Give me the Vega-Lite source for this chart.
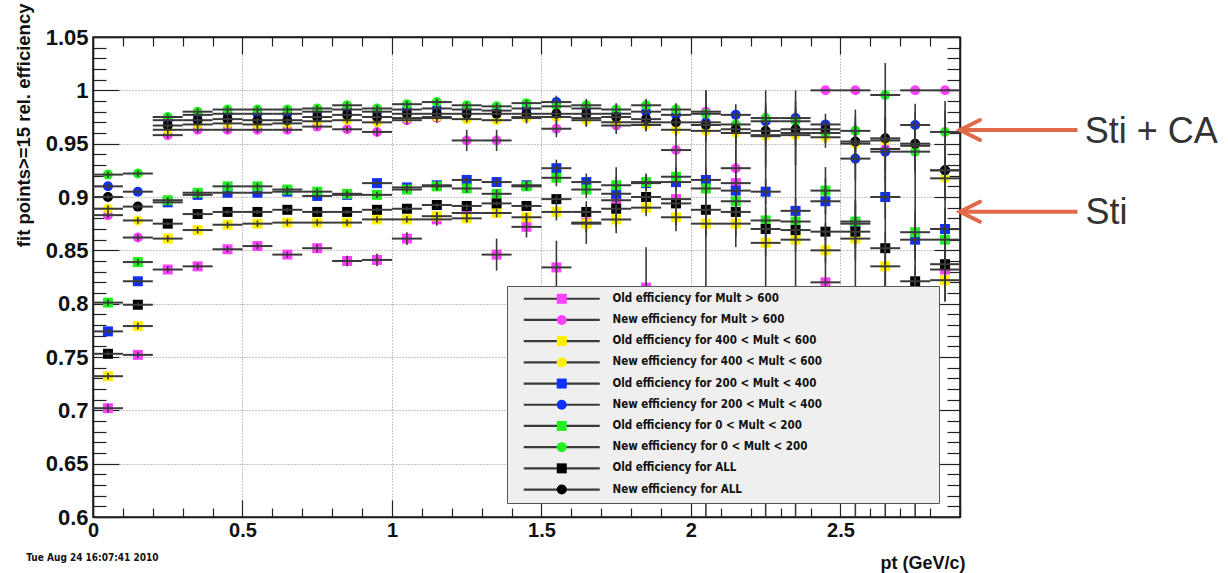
{
"$schema": "https://vega.github.io/schema/vega-lite/v6.json",
"width": 867, "height": 480,
"autosize": "none",
"padding": {"left": 93, "top": 37, "right": 268, "bottom": 56},
"background": "white",
"config": {"view": {"stroke": "#1a1a1a", "strokeWidth": 1.5}},
"datasets": {
"eff": [
{"s":"Old efficiency for Mult > 600","x":0.05,"y":0.702,"e":0.004},{"s":"Old efficiency for Mult > 600","x":0.15,"y":0.752,"e":0.003},{"s":"Old efficiency for Mult > 600","x":0.25,"y":0.832,"e":0.003},{"s":"Old efficiency for Mult > 600","x":0.35,"y":0.835,"e":0.003},{"s":"Old efficiency for Mult > 600","x":0.45,"y":0.851,"e":0.003},{"s":"Old efficiency for Mult > 600","x":0.55,"y":0.854,"e":0.003},{"s":"Old efficiency for Mult > 600","x":0.65,"y":0.846,"e":0.003},{"s":"Old efficiency for Mult > 600","x":0.75,"y":0.852,"e":0.004},{"s":"Old efficiency for Mult > 600","x":0.85,"y":0.840,"e":0.005},{"s":"Old efficiency for Mult > 600","x":0.95,"y":0.841,"e":0.006},{"s":"Old efficiency for Mult > 600","x":1.05,"y":0.861,"e":0.006},{"s":"Old efficiency for Mult > 600","x":1.15,"y":0.879,"e":0.006},{"s":"Old efficiency for Mult > 600","x":1.25,"y":0.885,"e":0.008},{"s":"Old efficiency for Mult > 600","x":1.35,"y":0.846,"e":0.015},{"s":"Old efficiency for Mult > 600","x":1.45,"y":0.872,"e":0.01},{"s":"Old efficiency for Mult > 600","x":1.55,"y":0.834,"e":0.025},{"s":"Old efficiency for Mult > 600","x":1.65,"y":0.876,"e":0.02},{"s":"Old efficiency for Mult > 600","x":1.75,"y":0.897,"e":0.031},{"s":"Old efficiency for Mult > 600","x":1.85,"y":0.815,"e":0.038},{"s":"Old efficiency for Mult > 600","x":1.95,"y":0.898,"e":0.03},{"s":"Old efficiency for Mult > 600","x":2.05,"y":0.790,"e":0.21},{"s":"Old efficiency for Mult > 600","x":2.15,"y":0.913,"e":0.06},{"s":"Old efficiency for Mult > 600","x":2.25,"y":0.800,"e":0.2},{"s":"Old efficiency for Mult > 600","x":2.35,"y":0.790,"e":0.21},{"s":"Old efficiency for Mult > 600","x":2.45,"y":0.820,"e":0.108},{"s":"Old efficiency for Mult > 600","x":2.55,"y":0.780,"e":0.195},{"s":"Old efficiency for Mult > 600","x":2.65,"y":0.760,"e":0.24},{"s":"Old efficiency for Mult > 600","x":2.75,"y":0.770,"e":0.21},{"s":"Old efficiency for Mult > 600","x":2.85,"y":0.832,"e":0.03},
{"s":"New efficiency for Mult > 600","x":0.05,"y":0.883,"e":0.003},{"s":"New efficiency for Mult > 600","x":0.15,"y":0.862,"e":0.003},{"s":"New efficiency for Mult > 600","x":0.25,"y":0.958,"e":0.003},{"s":"New efficiency for Mult > 600","x":0.35,"y":0.963,"e":0.003},{"s":"New efficiency for Mult > 600","x":0.45,"y":0.963,"e":0.003},{"s":"New efficiency for Mult > 600","x":0.55,"y":0.963,"e":0.003},{"s":"New efficiency for Mult > 600","x":0.65,"y":0.963,"e":0.003},{"s":"New efficiency for Mult > 600","x":0.75,"y":0.966,"e":0.003},{"s":"New efficiency for Mult > 600","x":0.85,"y":0.9635,"e":0.003},{"s":"New efficiency for Mult > 600","x":0.95,"y":0.961,"e":0.004},{"s":"New efficiency for Mult > 600","x":1.05,"y":0.972,"e":0.004},{"s":"New efficiency for Mult > 600","x":1.15,"y":0.974,"e":0.004},{"s":"New efficiency for Mult > 600","x":1.25,"y":0.953,"e":0.01},{"s":"New efficiency for Mult > 600","x":1.35,"y":0.953,"e":0.01},{"s":"New efficiency for Mult > 600","x":1.45,"y":0.975,"e":0.006},{"s":"New efficiency for Mult > 600","x":1.55,"y":0.964,"e":0.008},{"s":"New efficiency for Mult > 600","x":1.65,"y":0.974,"e":0.008},{"s":"New efficiency for Mult > 600","x":1.75,"y":0.967,"e":0.008},{"s":"New efficiency for Mult > 600","x":1.85,"y":0.970,"e":0.008},{"s":"New efficiency for Mult > 600","x":1.95,"y":0.944,"e":0.02},{"s":"New efficiency for Mult > 600","x":2.05,"y":0.980,"e":0.02},{"s":"New efficiency for Mult > 600","x":2.15,"y":0.927,"e":0.05},{"s":"New efficiency for Mult > 600","x":2.25,"y":0.958,"e":0.03},{"s":"New efficiency for Mult > 600","x":2.35,"y":0.960,"e":0.03},{"s":"New efficiency for Mult > 600","x":2.45,"y":1.0,"e":0},{"s":"New efficiency for Mult > 600","x":2.55,"y":1.0,"e":0},{"s":"New efficiency for Mult > 600","x":2.65,"y":0.945,"e":0.03},{"s":"New efficiency for Mult > 600","x":2.75,"y":1.0,"e":0},{"s":"New efficiency for Mult > 600","x":2.85,"y":1.0,"e":0},
{"s":"Old efficiency for 400 < Mult < 600","x":0.05,"y":0.732,"e":0.003},{"s":"Old efficiency for 400 < Mult < 600","x":0.15,"y":0.779,"e":0.003},{"s":"Old efficiency for 400 < Mult < 600","x":0.25,"y":0.861,"e":0.003},{"s":"Old efficiency for 400 < Mult < 600","x":0.35,"y":0.869,"e":0.003},{"s":"Old efficiency for 400 < Mult < 600","x":0.45,"y":0.874,"e":0.003},{"s":"Old efficiency for 400 < Mult < 600","x":0.55,"y":0.875,"e":0.003},{"s":"Old efficiency for 400 < Mult < 600","x":0.65,"y":0.876,"e":0.003},{"s":"Old efficiency for 400 < Mult < 600","x":0.75,"y":0.876,"e":0.003},{"s":"Old efficiency for 400 < Mult < 600","x":0.85,"y":0.876,"e":0.003},{"s":"Old efficiency for 400 < Mult < 600","x":0.95,"y":0.879,"e":0.003},{"s":"Old efficiency for 400 < Mult < 600","x":1.05,"y":0.879,"e":0.003},{"s":"Old efficiency for 400 < Mult < 600","x":1.15,"y":0.882,"e":0.004},{"s":"Old efficiency for 400 < Mult < 600","x":1.25,"y":0.880,"e":0.004},{"s":"Old efficiency for 400 < Mult < 600","x":1.35,"y":0.885,"e":0.004},{"s":"Old efficiency for 400 < Mult < 600","x":1.45,"y":0.881,"e":0.004},{"s":"Old efficiency for 400 < Mult < 600","x":1.55,"y":0.886,"e":0.008},{"s":"Old efficiency for 400 < Mult < 600","x":1.65,"y":0.875,"e":0.008},{"s":"Old efficiency for 400 < Mult < 600","x":1.75,"y":0.879,"e":0.008},{"s":"Old efficiency for 400 < Mult < 600","x":1.85,"y":0.890,"e":0.008},{"s":"Old efficiency for 400 < Mult < 600","x":1.95,"y":0.881,"e":0.008},{"s":"Old efficiency for 400 < Mult < 600","x":2.05,"y":0.875,"e":0.012},{"s":"Old efficiency for 400 < Mult < 600","x":2.15,"y":0.875,"e":0.012},{"s":"Old efficiency for 400 < Mult < 600","x":2.25,"y":0.857,"e":0.012},{"s":"Old efficiency for 400 < Mult < 600","x":2.35,"y":0.860,"e":0.012},{"s":"Old efficiency for 400 < Mult < 600","x":2.45,"y":0.850,"e":0.012},{"s":"Old efficiency for 400 < Mult < 600","x":2.55,"y":0.861,"e":0.02},{"s":"Old efficiency for 400 < Mult < 600","x":2.65,"y":0.835,"e":0.02},{"s":"Old efficiency for 400 < Mult < 600","x":2.75,"y":0.800,"e":0.02},{"s":"Old efficiency for 400 < Mult < 600","x":2.85,"y":0.822,"e":0.02},
{"s":"New efficiency for 400 < Mult < 600","x":0.05,"y":0.889,"e":0.003},{"s":"New efficiency for 400 < Mult < 600","x":0.15,"y":0.878,"e":0.003},{"s":"New efficiency for 400 < Mult < 600","x":0.25,"y":0.963,"e":0.003},{"s":"New efficiency for 400 < Mult < 600","x":0.35,"y":0.968,"e":0.003},{"s":"New efficiency for 400 < Mult < 600","x":0.45,"y":0.969,"e":0.003},{"s":"New efficiency for 400 < Mult < 600","x":0.55,"y":0.968,"e":0.003},{"s":"New efficiency for 400 < Mult < 600","x":0.65,"y":0.969,"e":0.003},{"s":"New efficiency for 400 < Mult < 600","x":0.75,"y":0.971,"e":0.003},{"s":"New efficiency for 400 < Mult < 600","x":0.85,"y":0.972,"e":0.003},{"s":"New efficiency for 400 < Mult < 600","x":0.95,"y":0.970,"e":0.003},{"s":"New efficiency for 400 < Mult < 600","x":1.05,"y":0.974,"e":0.003},{"s":"New efficiency for 400 < Mult < 600","x":1.15,"y":0.975,"e":0.003},{"s":"New efficiency for 400 < Mult < 600","x":1.25,"y":0.973,"e":0.003},{"s":"New efficiency for 400 < Mult < 600","x":1.35,"y":0.972,"e":0.003},{"s":"New efficiency for 400 < Mult < 600","x":1.45,"y":0.974,"e":0.003},{"s":"New efficiency for 400 < Mult < 600","x":1.55,"y":0.975,"e":0.006},{"s":"New efficiency for 400 < Mult < 600","x":1.65,"y":0.972,"e":0.006},{"s":"New efficiency for 400 < Mult < 600","x":1.75,"y":0.970,"e":0.006},{"s":"New efficiency for 400 < Mult < 600","x":1.85,"y":0.9675,"e":0.006},{"s":"New efficiency for 400 < Mult < 600","x":1.95,"y":0.963,"e":0.006},{"s":"New efficiency for 400 < Mult < 600","x":2.05,"y":0.962,"e":0.01},{"s":"New efficiency for 400 < Mult < 600","x":2.15,"y":0.960,"e":0.01},{"s":"New efficiency for 400 < Mult < 600","x":2.25,"y":0.957,"e":0.01},{"s":"New efficiency for 400 < Mult < 600","x":2.35,"y":0.958,"e":0.01},{"s":"New efficiency for 400 < Mult < 600","x":2.45,"y":0.956,"e":0.01},{"s":"New efficiency for 400 < Mult < 600","x":2.55,"y":0.950,"e":0.02},{"s":"New efficiency for 400 < Mult < 600","x":2.65,"y":0.953,"e":0.02},{"s":"New efficiency for 400 < Mult < 600","x":2.75,"y":0.948,"e":0.02},{"s":"New efficiency for 400 < Mult < 600","x":2.85,"y":0.9175,"e":0.02},
{"s":"Old efficiency for 200 < Mult < 400","x":0.05,"y":0.774,"e":0.003},{"s":"Old efficiency for 200 < Mult < 400","x":0.15,"y":0.821,"e":0.003},{"s":"Old efficiency for 200 < Mult < 400","x":0.25,"y":0.895,"e":0.003},{"s":"Old efficiency for 200 < Mult < 400","x":0.35,"y":0.902,"e":0.003},{"s":"Old efficiency for 200 < Mult < 400","x":0.45,"y":0.904,"e":0.003},{"s":"Old efficiency for 200 < Mult < 400","x":0.55,"y":0.904,"e":0.003},{"s":"Old efficiency for 200 < Mult < 400","x":0.65,"y":0.905,"e":0.003},{"s":"Old efficiency for 200 < Mult < 400","x":0.75,"y":0.901,"e":0.003},{"s":"Old efficiency for 200 < Mult < 400","x":0.85,"y":0.902,"e":0.003},{"s":"Old efficiency for 200 < Mult < 400","x":0.95,"y":0.913,"e":0.003},{"s":"Old efficiency for 200 < Mult < 400","x":1.05,"y":0.909,"e":0.003},{"s":"Old efficiency for 200 < Mult < 400","x":1.15,"y":0.911,"e":0.004},{"s":"Old efficiency for 200 < Mult < 400","x":1.25,"y":0.916,"e":0.004},{"s":"Old efficiency for 200 < Mult < 400","x":1.35,"y":0.914,"e":0.004},{"s":"Old efficiency for 200 < Mult < 400","x":1.45,"y":0.911,"e":0.004},{"s":"Old efficiency for 200 < Mult < 400","x":1.55,"y":0.927,"e":0.008},{"s":"Old efficiency for 200 < Mult < 400","x":1.65,"y":0.914,"e":0.008},{"s":"Old efficiency for 200 < Mult < 400","x":1.75,"y":0.903,"e":0.008},{"s":"Old efficiency for 200 < Mult < 400","x":1.85,"y":0.913,"e":0.008},{"s":"Old efficiency for 200 < Mult < 400","x":1.95,"y":0.914,"e":0.008},{"s":"Old efficiency for 200 < Mult < 400","x":2.05,"y":0.916,"e":0.012},{"s":"Old efficiency for 200 < Mult < 400","x":2.15,"y":0.906,"e":0.012},{"s":"Old efficiency for 200 < Mult < 400","x":2.25,"y":0.905,"e":0.012},{"s":"Old efficiency for 200 < Mult < 400","x":2.35,"y":0.887,"e":0.012},{"s":"Old efficiency for 200 < Mult < 400","x":2.45,"y":0.896,"e":0.012},{"s":"Old efficiency for 200 < Mult < 400","x":2.55,"y":0.875,"e":0.02},{"s":"Old efficiency for 200 < Mult < 400","x":2.65,"y":0.900,"e":0.02},{"s":"Old efficiency for 200 < Mult < 400","x":2.75,"y":0.860,"e":0.02},{"s":"Old efficiency for 200 < Mult < 400","x":2.85,"y":0.870,"e":0.02},
{"s":"New efficiency for 200 < Mult < 400","x":0.05,"y":0.910,"e":0.003},{"s":"New efficiency for 200 < Mult < 400","x":0.15,"y":0.905,"e":0.003},{"s":"New efficiency for 200 < Mult < 400","x":0.25,"y":0.972,"e":0.003},{"s":"New efficiency for 200 < Mult < 400","x":0.35,"y":0.977,"e":0.003},{"s":"New efficiency for 200 < Mult < 400","x":0.45,"y":0.978,"e":0.003},{"s":"New efficiency for 200 < Mult < 400","x":0.55,"y":0.978,"e":0.003},{"s":"New efficiency for 200 < Mult < 400","x":0.65,"y":0.978,"e":0.003},{"s":"New efficiency for 200 < Mult < 400","x":0.75,"y":0.980,"e":0.003},{"s":"New efficiency for 200 < Mult < 400","x":0.85,"y":0.982,"e":0.003},{"s":"New efficiency for 200 < Mult < 400","x":0.95,"y":0.980,"e":0.003},{"s":"New efficiency for 200 < Mult < 400","x":1.05,"y":0.982,"e":0.003},{"s":"New efficiency for 200 < Mult < 400","x":1.15,"y":0.983,"e":0.003},{"s":"New efficiency for 200 < Mult < 400","x":1.25,"y":0.982,"e":0.003},{"s":"New efficiency for 200 < Mult < 400","x":1.35,"y":0.981,"e":0.003},{"s":"New efficiency for 200 < Mult < 400","x":1.45,"y":0.983,"e":0.003},{"s":"New efficiency for 200 < Mult < 400","x":1.55,"y":0.989,"e":0.006},{"s":"New efficiency for 200 < Mult < 400","x":1.65,"y":0.983,"e":0.006},{"s":"New efficiency for 200 < Mult < 400","x":1.75,"y":0.978,"e":0.006},{"s":"New efficiency for 200 < Mult < 400","x":1.85,"y":0.980,"e":0.006},{"s":"New efficiency for 200 < Mult < 400","x":1.95,"y":0.977,"e":0.006},{"s":"New efficiency for 200 < Mult < 400","x":2.05,"y":0.970,"e":0.01},{"s":"New efficiency for 200 < Mult < 400","x":2.15,"y":0.977,"e":0.01},{"s":"New efficiency for 200 < Mult < 400","x":2.25,"y":0.971,"e":0.01},{"s":"New efficiency for 200 < Mult < 400","x":2.35,"y":0.974,"e":0.01},{"s":"New efficiency for 200 < Mult < 400","x":2.45,"y":0.968,"e":0.01},{"s":"New efficiency for 200 < Mult < 400","x":2.55,"y":0.936,"e":0.02},{"s":"New efficiency for 200 < Mult < 400","x":2.65,"y":0.9425,"e":0.02},{"s":"New efficiency for 200 < Mult < 400","x":2.75,"y":0.9675,"e":0.02},{"s":"New efficiency for 200 < Mult < 400","x":2.85,"y":0.925,"e":0.02},
{"s":"Old efficiency for 0 < Mult < 200","x":0.05,"y":0.801,"e":0.003},{"s":"Old efficiency for 0 < Mult < 200","x":0.15,"y":0.839,"e":0.003},{"s":"Old efficiency for 0 < Mult < 200","x":0.25,"y":0.897,"e":0.003},{"s":"Old efficiency for 0 < Mult < 200","x":0.35,"y":0.904,"e":0.003},{"s":"Old efficiency for 0 < Mult < 200","x":0.45,"y":0.910,"e":0.003},{"s":"Old efficiency for 0 < Mult < 200","x":0.55,"y":0.910,"e":0.003},{"s":"Old efficiency for 0 < Mult < 200","x":0.65,"y":0.907,"e":0.003},{"s":"Old efficiency for 0 < Mult < 200","x":0.75,"y":0.905,"e":0.003},{"s":"Old efficiency for 0 < Mult < 200","x":0.85,"y":0.903,"e":0.003},{"s":"Old efficiency for 0 < Mult < 200","x":0.95,"y":0.902,"e":0.003},{"s":"Old efficiency for 0 < Mult < 200","x":1.05,"y":0.907,"e":0.003},{"s":"Old efficiency for 0 < Mult < 200","x":1.15,"y":0.910,"e":0.004},{"s":"Old efficiency for 0 < Mult < 200","x":1.25,"y":0.908,"e":0.004},{"s":"Old efficiency for 0 < Mult < 200","x":1.35,"y":0.903,"e":0.004},{"s":"Old efficiency for 0 < Mult < 200","x":1.45,"y":0.910,"e":0.004},{"s":"Old efficiency for 0 < Mult < 200","x":1.55,"y":0.918,"e":0.008},{"s":"Old efficiency for 0 < Mult < 200","x":1.65,"y":0.907,"e":0.008},{"s":"Old efficiency for 0 < Mult < 200","x":1.75,"y":0.911,"e":0.008},{"s":"Old efficiency for 0 < Mult < 200","x":1.85,"y":0.914,"e":0.008},{"s":"Old efficiency for 0 < Mult < 200","x":1.95,"y":0.919,"e":0.008},{"s":"Old efficiency for 0 < Mult < 200","x":2.05,"y":0.908,"e":0.012},{"s":"Old efficiency for 0 < Mult < 200","x":2.15,"y":0.896,"e":0.012},{"s":"Old efficiency for 0 < Mult < 200","x":2.25,"y":0.878,"e":0.012},{"s":"Old efficiency for 0 < Mult < 200","x":2.35,"y":0.877,"e":0.012},{"s":"Old efficiency for 0 < Mult < 200","x":2.45,"y":0.906,"e":0.012},{"s":"Old efficiency for 0 < Mult < 200","x":2.55,"y":0.877,"e":0.02},{"s":"Old efficiency for 0 < Mult < 200","x":2.65,"y":0.810,"e":0.02},{"s":"Old efficiency for 0 < Mult < 200","x":2.75,"y":0.867,"e":0.02},{"s":"Old efficiency for 0 < Mult < 200","x":2.85,"y":0.860,"e":0.02},
{"s":"New efficiency for 0 < Mult < 200","x":0.05,"y":0.921,"e":0.003},{"s":"New efficiency for 0 < Mult < 200","x":0.15,"y":0.922,"e":0.003},{"s":"New efficiency for 0 < Mult < 200","x":0.25,"y":0.975,"e":0.003},{"s":"New efficiency for 0 < Mult < 200","x":0.35,"y":0.980,"e":0.003},{"s":"New efficiency for 0 < Mult < 200","x":0.45,"y":0.982,"e":0.003},{"s":"New efficiency for 0 < Mult < 200","x":0.55,"y":0.982,"e":0.003},{"s":"New efficiency for 0 < Mult < 200","x":0.65,"y":0.982,"e":0.003},{"s":"New efficiency for 0 < Mult < 200","x":0.75,"y":0.983,"e":0.003},{"s":"New efficiency for 0 < Mult < 200","x":0.85,"y":0.986,"e":0.003},{"s":"New efficiency for 0 < Mult < 200","x":0.95,"y":0.983,"e":0.003},{"s":"New efficiency for 0 < Mult < 200","x":1.05,"y":0.987,"e":0.003},{"s":"New efficiency for 0 < Mult < 200","x":1.15,"y":0.989,"e":0.003},{"s":"New efficiency for 0 < Mult < 200","x":1.25,"y":0.986,"e":0.003},{"s":"New efficiency for 0 < Mult < 200","x":1.35,"y":0.985,"e":0.003},{"s":"New efficiency for 0 < Mult < 200","x":1.45,"y":0.988,"e":0.003},{"s":"New efficiency for 0 < Mult < 200","x":1.55,"y":0.985,"e":0.006},{"s":"New efficiency for 0 < Mult < 200","x":1.65,"y":0.986,"e":0.006},{"s":"New efficiency for 0 < Mult < 200","x":1.75,"y":0.982,"e":0.006},{"s":"New efficiency for 0 < Mult < 200","x":1.85,"y":0.986,"e":0.006},{"s":"New efficiency for 0 < Mult < 200","x":1.95,"y":0.982,"e":0.006},{"s":"New efficiency for 0 < Mult < 200","x":2.05,"y":0.978,"e":0.01},{"s":"New efficiency for 0 < Mult < 200","x":2.15,"y":0.968,"e":0.01},{"s":"New efficiency for 0 < Mult < 200","x":2.25,"y":0.974,"e":0.01},{"s":"New efficiency for 0 < Mult < 200","x":2.35,"y":0.971,"e":0.01},{"s":"New efficiency for 0 < Mult < 200","x":2.45,"y":0.960,"e":0.01},{"s":"New efficiency for 0 < Mult < 200","x":2.55,"y":0.962,"e":0.02},{"s":"New efficiency for 0 < Mult < 200","x":2.65,"y":0.9956,"e":0.03},{"s":"New efficiency for 0 < Mult < 200","x":2.75,"y":0.9425,"e":0.02},{"s":"New efficiency for 0 < Mult < 200","x":2.85,"y":0.961,"e":0.02},
{"s":"Old efficiency for ALL","x":0.05,"y":0.753,"e":0.002},{"s":"Old efficiency for ALL","x":0.15,"y":0.799,"e":0.002},{"s":"Old efficiency for ALL","x":0.25,"y":0.875,"e":0.002},{"s":"Old efficiency for ALL","x":0.35,"y":0.884,"e":0.002},{"s":"Old efficiency for ALL","x":0.45,"y":0.886,"e":0.002},{"s":"Old efficiency for ALL","x":0.55,"y":0.886,"e":0.002},{"s":"Old efficiency for ALL","x":0.65,"y":0.888,"e":0.002},{"s":"Old efficiency for ALL","x":0.75,"y":0.886,"e":0.002},{"s":"Old efficiency for ALL","x":0.85,"y":0.886,"e":0.002},{"s":"Old efficiency for ALL","x":0.95,"y":0.888,"e":0.002},{"s":"Old efficiency for ALL","x":1.05,"y":0.889,"e":0.002},{"s":"Old efficiency for ALL","x":1.15,"y":0.8925,"e":0.002},{"s":"Old efficiency for ALL","x":1.25,"y":0.8916,"e":0.002},{"s":"Old efficiency for ALL","x":1.35,"y":0.894,"e":0.002},{"s":"Old efficiency for ALL","x":1.45,"y":0.8916,"e":0.002},{"s":"Old efficiency for ALL","x":1.55,"y":0.898,"e":0.004},{"s":"Old efficiency for ALL","x":1.65,"y":0.886,"e":0.004},{"s":"Old efficiency for ALL","x":1.75,"y":0.889,"e":0.004},{"s":"Old efficiency for ALL","x":1.85,"y":0.900,"e":0.004},{"s":"Old efficiency for ALL","x":1.95,"y":0.894,"e":0.004},{"s":"Old efficiency for ALL","x":2.05,"y":0.888,"e":0.008},{"s":"Old efficiency for ALL","x":2.15,"y":0.886,"e":0.008},{"s":"Old efficiency for ALL","x":2.25,"y":0.870,"e":0.008},{"s":"Old efficiency for ALL","x":2.35,"y":0.869,"e":0.008},{"s":"Old efficiency for ALL","x":2.45,"y":0.8675,"e":0.008},{"s":"Old efficiency for ALL","x":2.55,"y":0.8675,"e":0.015},{"s":"Old efficiency for ALL","x":2.65,"y":0.852,"e":0.015},{"s":"Old efficiency for ALL","x":2.75,"y":0.821,"e":0.015},{"s":"Old efficiency for ALL","x":2.85,"y":0.837,"e":0.015},
{"s":"New efficiency for ALL","x":0.05,"y":0.900,"e":0.002},{"s":"New efficiency for ALL","x":0.15,"y":0.891,"e":0.002},{"s":"New efficiency for ALL","x":0.25,"y":0.967,"e":0.002},{"s":"New efficiency for ALL","x":0.35,"y":0.972,"e":0.002},{"s":"New efficiency for ALL","x":0.45,"y":0.973,"e":0.002},{"s":"New efficiency for ALL","x":0.55,"y":0.972,"e":0.002},{"s":"New efficiency for ALL","x":0.65,"y":0.972,"e":0.002},{"s":"New efficiency for ALL","x":0.75,"y":0.975,"e":0.002},{"s":"New efficiency for ALL","x":0.85,"y":0.977,"e":0.002},{"s":"New efficiency for ALL","x":0.95,"y":0.975,"e":0.002},{"s":"New efficiency for ALL","x":1.05,"y":0.978,"e":0.002},{"s":"New efficiency for ALL","x":1.15,"y":0.978,"e":0.002},{"s":"New efficiency for ALL","x":1.25,"y":0.978,"e":0.002},{"s":"New efficiency for ALL","x":1.35,"y":0.978,"e":0.002},{"s":"New efficiency for ALL","x":1.45,"y":0.978,"e":0.002},{"s":"New efficiency for ALL","x":1.55,"y":0.978,"e":0.004},{"s":"New efficiency for ALL","x":1.65,"y":0.978,"e":0.004},{"s":"New efficiency for ALL","x":1.75,"y":0.975,"e":0.004},{"s":"New efficiency for ALL","x":1.85,"y":0.973,"e":0.004},{"s":"New efficiency for ALL","x":1.95,"y":0.970,"e":0.004},{"s":"New efficiency for ALL","x":2.05,"y":0.9675,"e":0.008},{"s":"New efficiency for ALL","x":2.15,"y":0.9635,"e":0.008},{"s":"New efficiency for ALL","x":2.25,"y":0.962,"e":0.008},{"s":"New efficiency for ALL","x":2.35,"y":0.9635,"e":0.008},{"s":"New efficiency for ALL","x":2.45,"y":0.9635,"e":0.008},{"s":"New efficiency for ALL","x":2.55,"y":0.952,"e":0.015},{"s":"New efficiency for ALL","x":2.65,"y":0.955,"e":0.015},{"s":"New efficiency for ALL","x":2.75,"y":0.950,"e":0.015},{"s":"New efficiency for ALL","x":2.85,"y":0.925,"e":0.065}
],
"ann": [
{"x":2.9,"x2":3.293,"y":0.9628,"lx":3.317,"ly":0.9503,"label":"Sti + CA"},
{"x":2.9,"x2":3.293,"y":0.8862,"lx":3.32,"ly":0.8747,"label":"Sti"}
],
"stamp": [{"x":-0.223,"y":0.5588,"t":"Tue Aug 24 16:07:41 2010"}]
},
"resolve": {"axis": {"x": "independent", "y": "independent"}},
"layer": [
{
"data": {"name": "eff"},
"mark": {"type": "point", "filled": true, "size": 100, "opacity": 1, "strokeWidth": 0},
"encoding": {
"x": {"field": "x", "type": "quantitative", "scale": {"domain": [0, 2.9], "nice": false, "zero": false},
 "axis": {"orient": "bottom", "values": [0,0.1,0.2,0.3,0.4,0.5,0.6,0.7,0.8,0.9,1,1.1,1.2,1.3,1.4,1.5,1.6,1.7,1.8,1.9,2,2.1,2.2,2.3,2.4,2.5,2.6,2.7,2.8,2.9],
  "format": ".1~f", "labelExpr": "abs(datum.value*2-round(datum.value*2))<0.001 ? datum.label : ''",
  "labelOverlap": false, "labelFlush": false, "labelBound": false,
  "tickSize": {"condition": {"test": "abs(datum.value*2-round(datum.value*2))<0.001", "value": -17}, "value": -9},
  "tickColor": "#222", "tickWidth": 1.2, "domainColor": "#1a1a1a", "domainWidth": 1.5,
  "grid": true, "gridColor": "#8a8a8a", "gridDash": [1, 2], "gridWidth": 1,
  "gridOpacity": {"condition": {"test": "abs(datum.value*2-round(datum.value*2))<0.001 && datum.value>0.01 && datum.value<2.89", "value": 1}, "value": 0},
  "labelFont": "Liberation Sans", "labelFontSize": 20, "labelFontWeight": "bold", "labelColor": "#111", "labelPadding": 20,
  "title": "pt (GeV/c)", "titleX": 872, "titleY": 46, "titleAlign": "right", "titleBaseline": "middle", "titleAnchor": null,
  "titleFont": "Liberation Sans", "titleFontSize": 18, "titleFontWeight": "bold", "titleColor": "#111"}},
"y": {"field": "y", "type": "quantitative", "scale": {"domain": [0.6, 1.05], "nice": false, "zero": false},
 "axis": {"orient": "left", "values": [0.6,0.61,0.62,0.63,0.64,0.65,0.66,0.67,0.68,0.69,0.7,0.71,0.72,0.73,0.74,0.75,0.76,0.77,0.78,0.79,0.8,0.81,0.82,0.83,0.84,0.85,0.86,0.87,0.88,0.89,0.9,0.91,0.92,0.93,0.94,0.95,0.96,0.97,0.98,0.99,1,1.01,1.02,1.03,1.04,1.05],
  "format": ".2~f", "labelExpr": "abs(datum.value*20-round(datum.value*20))<0.001 ? datum.label : ''",
  "labelOverlap": false, "labelFlush": false, "labelBound": false,
  "tickSize": {"condition": {"test": "abs(datum.value*20-round(datum.value*20))<0.001", "value": -26}, "value": -13},
  "tickColor": "#222", "tickWidth": 1.2, "domainColor": "#1a1a1a", "domainWidth": 1.5,
  "grid": true, "gridColor": "#8a8a8a", "gridDash": [1, 2], "gridWidth": 1,
  "gridOpacity": {"condition": {"test": "abs(datum.value*20-round(datum.value*20))<0.001 && datum.value>0.61 && datum.value<1.04", "value": 1}, "value": 0},
  "labelFont": "Liberation Sans", "labelFontSize": 22, "labelFontWeight": "bold", "labelColor": "#111", "labelPadding": 31,
  "title": "fit points>=15 rel. efficiency", "titleAngle": 270, "titleAlign": "right", "titleBaseline": "middle", "titleAnchor": null,
  "titleX": -70, "titleY": -34, "titleFont": "Liberation Sans", "titleFontSize": 18.5, "titleFontWeight": "bold", "titleColor": "#111"}},
"color": {"field": "s", "type": "nominal",
 "scale": {"domain": ["Old efficiency for Mult > 600","New efficiency for Mult > 600","Old efficiency for 400 < Mult < 600","New efficiency for 400 < Mult < 600","Old efficiency for 200 < Mult < 400","New efficiency for 200 < Mult < 400","Old efficiency for 0 < Mult < 200","New efficiency for 0 < Mult < 200","Old efficiency for ALL","New efficiency for ALL"],
  "range": ["#ff40ff","#ff40ff","#ffee00","#ffee00","#1030ff","#1030ff","#22ee22","#22ee22","#000000","#000000"]},
 "legend": {"orient": "none", "legendX": 414, "legendY": 249, "title": null, "symbolSize": 100, "symbolStrokeWidth": 0, "symbolOffset": 42,
  "labelOffset": 45, "labelLimit": 600, "labelFont": "Liberation Sans Narrow, DejaVu Sans Condensed, sans-serif", "labelFontSize": 11.5, "labelFontWeight": "bold", "labelColor": "#111",
  "padding": 7, "rowPadding": 8.2, "zindex": 2}},
"shape": {"field": "s", "type": "nominal",
 "scale": {"domain": ["Old efficiency for Mult > 600","New efficiency for Mult > 600","Old efficiency for 400 < Mult < 600","New efficiency for 400 < Mult < 600","Old efficiency for 200 < Mult < 400","New efficiency for 200 < Mult < 400","Old efficiency for 0 < Mult < 200","New efficiency for 0 < Mult < 200","Old efficiency for ALL","New efficiency for ALL"],
  "range": ["square","circle","square","circle","square","circle","square","circle","square","circle"]},
 "legend": {"orient": "none", "legendX": 414, "legendY": 249, "title": null, "symbolSize": 100, "symbolStrokeWidth": 0, "symbolOffset": 42,
  "labelOffset": 45, "labelLimit": 600, "labelFont": "Liberation Sans Narrow, DejaVu Sans Condensed, sans-serif", "labelFontSize": 11.5, "labelFontWeight": "bold", "labelColor": "#111",
  "padding": 7, "rowPadding": 8.2, "zindex": 2}}
}
},
{
"data": {"name": "eff"},
"mark": {"type": "errorbar", "color": "#3a3a3a", "thickness": 1.6, "clip": true},
"encoding": {
"x": {"field": "x", "type": "quantitative", "scale": {"domain": [0, 2.9], "nice": false, "zero": false}, "axis": null},
"y": {"field": "y", "type": "quantitative", "scale": {"domain": [0.6, 1.05], "nice": false, "zero": false}, "axis": null},
"yError": {"field": "e"}
}
},
{
"data": {"name": "eff"},
"mark": {"type": "tick", "orient": "horizontal", "size": 30, "thickness": 2, "color": "#3a3a3a"},
"encoding": {
"x": {"field": "x", "type": "quantitative", "scale": {"domain": [0, 2.9], "nice": false, "zero": false}, "axis": null},
"y": {"field": "y", "type": "quantitative", "scale": {"domain": [0.6, 1.05], "nice": false, "zero": false}, "axis": null},
"opacity": {"field": "s", "type": "ordinal", "scale": {"range": [1, 1]},
 "legend": {"orient": "none", "legendX": 414, "legendY": 249, "title": null, "symbolType": "M-7.6,-0.22H7.6V0.22H-7.6Z", "symbolSize": 100,
  "symbolFillColor": "#2a2a2a", "symbolStrokeWidth": 0, "symbolOffset": 42,
  "labelOffset": 45, "labelLimit": 700, "labelFont": "Liberation Sans Narrow, DejaVu Sans Condensed, sans-serif", "labelFontSize": 11.5, "labelFontWeight": "bold",
  "labelExpr": "'MMMMMMMMMMMMMMMMMMMMMMMMMMMMMMM'", "labelOpacity": 0,
  "padding": 7, "rowPadding": 8.2, "fillColor": "#efefef", "strokeColor": "#555", "zindex": 1,
  "encode": {"symbols": {"update": {"fill": {"value": "#2a2a2a"}, "opacity": {"value": 1}, "shape": {"value": "M-7.6,-0.22H7.6V0.22H-7.6Z"}}}}}}
}
},
{
"data": {"name": "ann"},
"mark": {"type": "rule", "color": "#e06a48", "strokeWidth": 4, "strokeCap": "butt", "clip": false},
"encoding": {
"x": {"field": "x", "type": "quantitative", "scale": {"domain": [0, 2.9], "nice": false, "zero": false},
 "axis": {"orient": "top", "values": [0,0.1,0.2,0.3,0.4,0.5,0.6,0.7,0.8,0.9,1,1.1,1.2,1.3,1.4,1.5,1.6,1.7,1.8,1.9,2,2.1,2.2,2.3,2.4,2.5,2.6,2.7,2.8,2.9],
  "labels": false, "title": null, "grid": false, "domainColor": "#1a1a1a", "domainWidth": 1.5, "tickColor": "#222", "tickWidth": 1.2,
  "tickSize": {"condition": {"test": "abs(datum.value*2-round(datum.value*2))<0.001", "value": -17}, "value": -9}}},
"x2": {"field": "x2"},
"y": {"field": "y", "type": "quantitative", "scale": {"domain": [0.6, 1.05], "nice": false, "zero": false},
 "axis": {"orient": "right", "values": [0.6,0.61,0.62,0.63,0.64,0.65,0.66,0.67,0.68,0.69,0.7,0.71,0.72,0.73,0.74,0.75,0.76,0.77,0.78,0.79,0.8,0.81,0.82,0.83,0.84,0.85,0.86,0.87,0.88,0.89,0.9,0.91,0.92,0.93,0.94,0.95,0.96,0.97,0.98,0.99,1,1.01,1.02,1.03,1.04,1.05],
  "labels": false, "title": null, "grid": false, "domainColor": "#1a1a1a", "domainWidth": 1.5, "tickColor": "#222", "tickWidth": 1.2,
  "tickSize": {"condition": {"test": "abs(datum.value*20-round(datum.value*20))<0.001", "value": -26}, "value": -13}}}
}
},
{
"data": {"name": "ann"},
"mark": {"type": "point", "shape": "M1,-0.5L0,0L1,0.5", "filled": false, "size": 1600, "strokeWidth": 4, "color": "#e06a48", "opacity": 1, "strokeJoin": "miter", "strokeCap": "round", "clip": false},
"encoding": {
"x": {"field": "x", "type": "quantitative", "scale": {"domain": [0, 2.9], "nice": false, "zero": false}, "axis": null},
"y": {"field": "y", "type": "quantitative", "scale": {"domain": [0.6, 1.05], "nice": false, "zero": false}, "axis": null}
}
},
{
"data": {"name": "ann"},
"mark": {"type": "text", "font": "Liberation Sans", "fontSize": 36, "color": "#333333", "align": "left", "baseline": "alphabetic", "clip": false},
"encoding": {
"x": {"field": "lx", "type": "quantitative", "scale": {"domain": [0, 2.9], "nice": false, "zero": false}, "axis": null},
"y": {"field": "ly", "type": "quantitative", "scale": {"domain": [0.6, 1.05], "nice": false, "zero": false}, "axis": null},
"text": {"field": "label"}
}
},
{
"data": {"name": "stamp"},
"mark": {"type": "text", "font": "Liberation Sans Narrow, DejaVu Sans Condensed, sans-serif", "fontSize": 10, "fontWeight": "bold", "color": "#111", "align": "left", "baseline": "alphabetic", "clip": false},
"encoding": {
"x": {"field": "x", "type": "quantitative", "scale": {"domain": [0, 2.9], "nice": false, "zero": false}, "axis": null},
"y": {"field": "y", "type": "quantitative", "scale": {"domain": [0.6, 1.05], "nice": false, "zero": false}, "axis": null},
"text": {"field": "t"}
}
}
]
}
